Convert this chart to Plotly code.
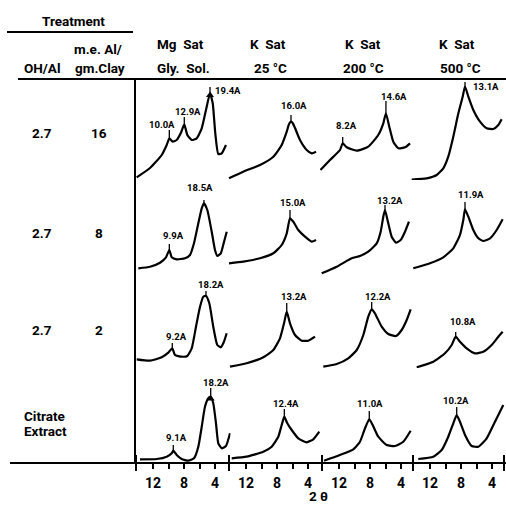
import plotly.graph_objects as go

# ---------------- data (2-theta in degrees, relative intensity) ----------------
rows = ["2.7 / 16", "2.7 / 8", "2.7 / 2", "Citrate Extract"]
oh_al = ["2.7", "2.7", "2.7"]
me_al = ["16", "8", "2"]
cols = ["Mg Sat Gly. Sol.", "K Sat 25 °C", "K Sat 200 °C", "K Sat 500 °C"]

# row 1 : OH/Al 2.7, 16 m.e.
r16_mg_x = [14.11, 12.39, 10.88, 10.24, 9.90, 9.46, 8.95, 8.43, 7.97, 7.58, 7.01, 6.37, 5.72, 5.17, 4.65, 4.30, 3.97, 3.58, 3.14, 2.59]
r16_mg_y = [2.7, 12, 25, 35, 41.7, 38.3, 40, 46.7, 55.7, 45, 40, 41.7, 51.7, 70, 86.7, 76.7, 46.7, 26, 26.7, 35]
r16_k25_x = [14.2, 12.35, 10.2, 8.48, 7.4, 6.75, 6.45, 6.2, 5.95, 5.68, 5.04, 4.17, 3.53, 2.97]
r16_k25_y = [1.7, 8.3, 15, 23.3, 35, 48.3, 56, 58.3, 56.5, 52, 40, 30, 26.7, 28.3]
r16_k200_x = [14.4, 13.17, 11.88, 11.53, 11.01, 9.72, 8.23, 6.94, 6.29, 5.95, 5.52, 5.0, 4.35, 3.49, 2.84]
r16_k200_y = [10, 20, 30, 36.7, 32.7, 29.3, 33.3, 45, 56.7, 66.7, 53.3, 38.3, 31.7, 32.7, 36.7]
r16_k500_x = [14.37, 12.43, 11.14, 10.29, 9.65, 9.0, 8.35, 7.79, 7.49, 7.06, 6.42, 5.55, 4.69, 3.84, 3.19, 2.76]
r16_k500_y = [0.5, 1.7, 5, 11.7, 23.3, 43.3, 66.7, 83.3, 93.3, 83.3, 70, 58.3, 51.7, 51, 55, 60.7]

# row 2 : OH/Al 2.7, 8 m.e.
r8_mg_x = [13.9, 12.39, 11.10, 10.33, 9.9, 9.59, 8.95, 7.88, 7.23, 6.72, 6.16, 5.72, 5.43, 5.0, 4.43, 4.01, 3.7, 3.26, 2.84, 2.49]
r8_mg_y = [6.7, 8.3, 12.3, 17.7, 25, 17.7, 15.7, 16.7, 20, 31.7, 51.7, 66.7, 71.7, 65, 43.3, 25, 19, 21.7, 33.3, 43.3]
r8_k25_x = [14.2, 12.35, 10.2, 8.48, 7.4, 6.75, 6.33, 5.9, 5.26, 4.39, 3.53, 2.97]
r8_k25_y = [11.7, 13.3, 16.7, 21.7, 30, 41.7, 56.7, 53.3, 45, 38.3, 33.3, 35]
r8_k200_x = [14.24, 12.30, 10.37, 9.30, 8.23, 7.14, 6.63, 6.29, 6.07, 5.65, 5.21, 4.65, 4.05, 3.49, 2.98]
r8_k200_y = [1.7, 8.3, 16.7, 19, 23.3, 31.7, 43.3, 58.3, 65, 51.7, 38.3, 32.3, 35, 43.3, 53.3]
r8_k500_x = [14.16, 12.01, 10.29, 9.0, 8.14, 7.71, 7.49, 7.06, 6.42, 5.77, 5.13, 4.26, 3.4, 2.63]
r8_k500_y = [6.7, 11.7, 17.7, 26.7, 40, 55, 65.7, 58.3, 45, 36.7, 34, 36.7, 45, 55.7]

# row 3 : OH/Al 2.7, 2 m.e.
r2_mg_x = [14.11, 12.39, 10.88, 10.03, 9.52, 9.17, 8.3, 7.58, 7.01, 6.46, 5.94, 5.52, 5.17, 4.74, 4.23, 3.71, 3.27, 2.85, 2.5]
r2_mg_y = [8.7, 7.3, 10.7, 15.3, 19.7, 13, 11.3, 12, 19.7, 41.3, 61.3, 71.3, 72, 64.7, 41.3, 23, 20.7, 26.3, 34.7]
r2_k25_x = [14.07, 11.92, 9.77, 8.48, 7.62, 7.1, 6.75, 6.33, 5.68, 4.82, 3.97, 3.1]
r2_k25_y = [1.3, 4.7, 10.7, 18, 29.7, 44.7, 56.3, 44.7, 33, 27.3, 27.3, 31.3]
r2_k200_x = [14.03, 12.3, 10.81, 9.72, 8.87, 8.23, 7.79, 7.37, 6.5, 5.65, 4.65, 3.92, 3.27, 2.76]
r2_k200_y = [1.3, 4, 9.7, 18, 33, 51.3, 58.7, 54.7, 41.3, 34, 32, 38, 48, 58.7]
r2_k500_x = [13.72, 11.58, 10.07, 9.21, 8.69, 8.14, 7.27, 6.2, 5.13, 4.05, 3.19, 2.63]
r2_k500_y = [0.7, 6.3, 14.7, 23, 31.3, 26.3, 19.7, 14.7, 16.3, 23, 31.3, 36.3]

# row 4 : citrate extract
cit_mg_x = [13.68, 11.53, 10.24, 9.59, 9.39, 8.95, 8.3, 7.45, 6.72, 6.16, 5.72, 5.3, 4.87, 4.56, 4.23, 3.88, 3.58, 3.14, 2.59, 2.07]
cit_mg_y = [3.7, 4, 6.3, 9.7, 12.3, 8, 4, 2.3, 4.7, 16.3, 36.3, 56.3, 64.7, 66.3, 59.7, 39.7, 19.7, 14.7, 17, 29.7]
cit_k25_x = [13.85, 11.92, 9.77, 8.69, 7.84, 7.4, 7.06, 6.68, 6.11, 5.26, 4.17, 3.32, 2.55]
cit_k25_y = [4.7, 6.3, 11.3, 16.3, 26.3, 38, 46.3, 39.7, 33, 24.7, 20.7, 23.7, 31.3]
cit_k200_x = [13.94, 11.88, 10.16, 9.3, 8.65, 8.1, 7.66, 6.94, 5.85, 4.78, 3.71, 2.76]
cit_k200_y = [2.3, 8, 13.7, 21.3, 34.7, 43.7, 38, 26.3, 18, 17, 21.3, 32.3]
cit_k500_x = [13.52, 11.58, 10.5, 9.65, 9.0, 8.56, 8.14, 7.49, 6.63, 5.77, 4.69, 3.62, 2.55]
cit_k500_y = [4, 6.3, 13, 26.3, 39.7, 48, 41.3, 28, 17, 16.3, 24.7, 41.3, 58]

# peak annotations: text, row, col, peak 2theta, peak height, tick top, label 2theta, label height
peak_text = ["10.0A", "12.9A", "19.4A", "16.0A", "8.2A", "14.6A", "13.1A",
             "9.9A", "18.5A", "15.0A", "13.2A", "11.9A",
             "9.2A", "18.2A", "13.2A", "12.2A", "10.8A",
             "9.1A", "18.2A", "12.4A", "11.0A", "10.2A"]
peak_row = [0, 0, 0, 0, 0, 0, 0, 1, 1, 1, 1, 1, 2, 2, 2, 2, 2, 3, 3, 3, 3, 3]
peak_col = [0, 0, 0, 1, 2, 2, 3, 0, 0, 1, 2, 3, 0, 0, 1, 2, 3, 0, 0, 1, 2, 3]
peak_2t = [9.90, 7.97, 4.65, 6.2, 11.53, 5.95, 7.49, 9.9, 5.43, 6.33, 6.07, 7.49,
           9.52, 5.17, 6.75, 7.79, 8.69, 9.39, 4.56, 7.06, 8.1, 8.56]
peak_h = [41.7, 55.7, 86.7, 58.3, 36.7, 66.7, 93.3, 25, 71.7, 56.7, 65, 65.7,
          19.7, 72, 56.3, 58.7, 31.3, 12.3, 66.3, 46.3, 43.7, 48]
tick_top = [50, 63, 93, 65, 43, 79, 98, 31, 75, 65, 70, 73,
            25, 77, 65, 66, 36, 18, 75, 54, 52, 56]
label_2t = [10.85, 7.49, 2.33, 5.81, 11.1, 4.91, 4.78, 9.36, 5.94, 6.0, 5.43, 6.72,
            8.91, 4.52, 5.81, 6.91, 7.81, 8.91, 3.94, 6.85, 8.01, 8.65]
label_h = [55, 68, 89.5, 74, 54, 83, 93, 40, 88, 73, 75, 81,
           32, 84, 72, 72, 47, 26, 81, 60, 60, 63]
arrow_index = [2, 18]  # filled arrowheads (row 1 Mg 19.4A, citrate Mg 18.2A)

tick_vals = [12, 10, 8, 6, 4]
tick_text = ["12", "", "8", "", "4"]

curves = [
    [(r16_mg_x, r16_mg_y), (r16_k25_x, r16_k25_y), (r16_k200_x, r16_k200_y), (r16_k500_x, r16_k500_y)],
    [(r8_mg_x, r8_mg_y), (r8_k25_x, r8_k25_y), (r8_k200_x, r8_k200_y), (r8_k500_x, r8_k500_y)],
    [(r2_mg_x, r2_mg_y), (r2_k25_x, r2_k25_y), (r2_k200_x, r2_k200_y), (r2_k500_x, r2_k500_y)],
    [(cit_mg_x, cit_mg_y), (cit_k25_x, cit_k25_y), (cit_k200_x, cit_k200_y), (cit_k500_x, cit_k500_y)],
]

# ---------------- layout geometry (pixels) ----------------
W, H = 506, 509
PX_PER_DEG = 7.75
X_LEFT, X_RIGHT = 14.5, 2.0
EDGE_DEG = 14.2
col_edge_px = [136, 229, 322, 413]           # where 2theta = 14.2 sits in each panel
row_base_px = [180, 275, 368, 463]
row_top_px = [80, 180, 275, 368]
AXIS_Y = 463
FONT = "Roboto, DejaVu Sans, sans-serif"


def px(x):
    return x / W


def py(y):
    return 1 - y / H


def xa(c):
    return "x" if c == 0 else f"x{c + 1}"


def ya(r):
    return "y" if r == 0 else f"y{r + 1}"


fig = go.Figure()

for r in range(4):
    for c in range(4):
        xs, ys = curves[r][c]
        fig.add_trace(go.Scatter(x=xs, y=ys, mode="lines", xaxis=xa(c), yaxis=ya(r),
                                 line=dict(color="black", width=2.2, shape="spline", smoothing=0.5),
                                 hoverinfo="skip", showlegend=False))

for i, t in enumerate(peak_text):
    r, c = peak_row[i], peak_col[i]
    fig.add_trace(go.Scatter(x=[peak_2t[i], peak_2t[i]], y=[peak_h[i], tick_top[i]], mode="lines",
                             xaxis=xa(c), yaxis=ya(r), line=dict(color="black", width=1.3),
                             hoverinfo="skip", showlegend=False))
    fig.add_annotation(x=label_2t[i], y=label_h[i], xref=xa(c), yref=ya(r), text=f"<b>{t}</b>",
                       showarrow=False, font=dict(size=9.5, color="black", family=FONT))
    if i in arrow_index:
        fig.add_trace(go.Scatter(x=[peak_2t[i]], y=[peak_h[i] - 2], mode="markers",
                                 xaxis=xa(c), yaxis=ya(r),
                                 marker=dict(symbol="triangle-up", size=7, color="black"),
                                 hoverinfo="skip", showlegend=False))

layout = dict(width=W, height=H, margin=dict(l=0, r=0, t=0, b=0),
              paper_bgcolor="white", plot_bgcolor="rgba(0,0,0,0)", showlegend=False)

for c in range(4):
    left = col_edge_px[c] - (X_LEFT - EDGE_DEG) * PX_PER_DEG
    right = left + (X_LEFT - X_RIGHT) * PX_PER_DEG
    x_right = X_RIGHT
    if right > W:
        right = W
        x_right = X_LEFT - (right - left) / PX_PER_DEG
    key = "xaxis" if c == 0 else f"xaxis{c + 1}"
    layout[key] = dict(domain=[px(left), px(right)], range=[X_LEFT, x_right], anchor="free",
                       position=py(AXIS_Y),
                       showgrid=False, zeroline=False, showline=False,
                       ticks="outside", ticklen=5, tickwidth=1.5, tickcolor="black",
                       tickvals=tick_vals, ticktext=tick_text, ticklabelstandoff=2,
                       tickfont=dict(size=14, color="black", family=FONT, weight="bold"))

for r in range(4):
    key = "yaxis" if r == 0 else f"yaxis{r + 1}"
    layout[key] = dict(domain=[py(row_base_px[r]), py(row_top_px[r])],
                       range=[0, row_base_px[r] - row_top_px[r]], anchor="free", position=0,
                       visible=False, showgrid=False, zeroline=False)

fig.update_layout(**layout)

# frame lines (decoration)
line_style = dict(color="black", width=2)
frame = [
    (7, 32, 133, 32),
    (18, 79, 506, 79),
    (135, 79, 135, AXIS_Y),
    (10, AXIS_Y, 506, AXIS_Y),
]
for x0, y0, x1, y1 in frame:
    fig.add_shape(type="line", xref="paper", yref="paper", x0=px(x0), y0=py(y0), x1=px(x1), y1=py(y1),
                  line=line_style)
for bx in [136, 229, 322, 413, 504]:
    fig.add_shape(type="line", xref="paper", yref="paper", x0=px(bx), y0=py(455), x1=px(bx), y1=py(471),
                  line=line_style)

# table / header text
texts = [
    ("Treatment", 73, 21, "center"),
    ("m.e. Al/", 98, 49, "center"),
    ("gm.Clay", 100, 68, "center"),
    ("OH/Al", 42, 68, "center"),
    ("Mg  Sat", 155, 44, "left"),
    ("Gly.  Sol.", 155, 68, "left"),
    ("K  Sat", 268, 44, "center"),
    ("25 °C", 270, 68, "center"),
    ("K  Sat", 363, 44, "center"),
    ("200 °C", 363, 68, "center"),
    ("K  Sat", 457, 44, "center"),
    ("500 °C", 460, 68, "center"),
    ("Citrate", 22, 416, "left"),
    ("Extract", 22, 431, "left"),
    ("2 θ", 318, 496, "center"),
]
row_label_y = [133, 233, 330]
for i in range(3):
    texts.append((oh_al[i], 42, row_label_y[i], "center"))
    texts.append((me_al[i], 99, row_label_y[i], "center"))

for t, x, y, anc in texts:
    fig.add_annotation(x=px(x), y=py(y), xref="paper", yref="paper", text=t, showarrow=False,
                       xanchor=anc, yanchor="middle",
                       font=dict(size=13.5, color="black", family=FONT, weight="bold"))

fig.write_html("out.html", config={"displayModeBar": False},
               post_script="document.body.style.margin='0';document.body.style.overflow='hidden';")
